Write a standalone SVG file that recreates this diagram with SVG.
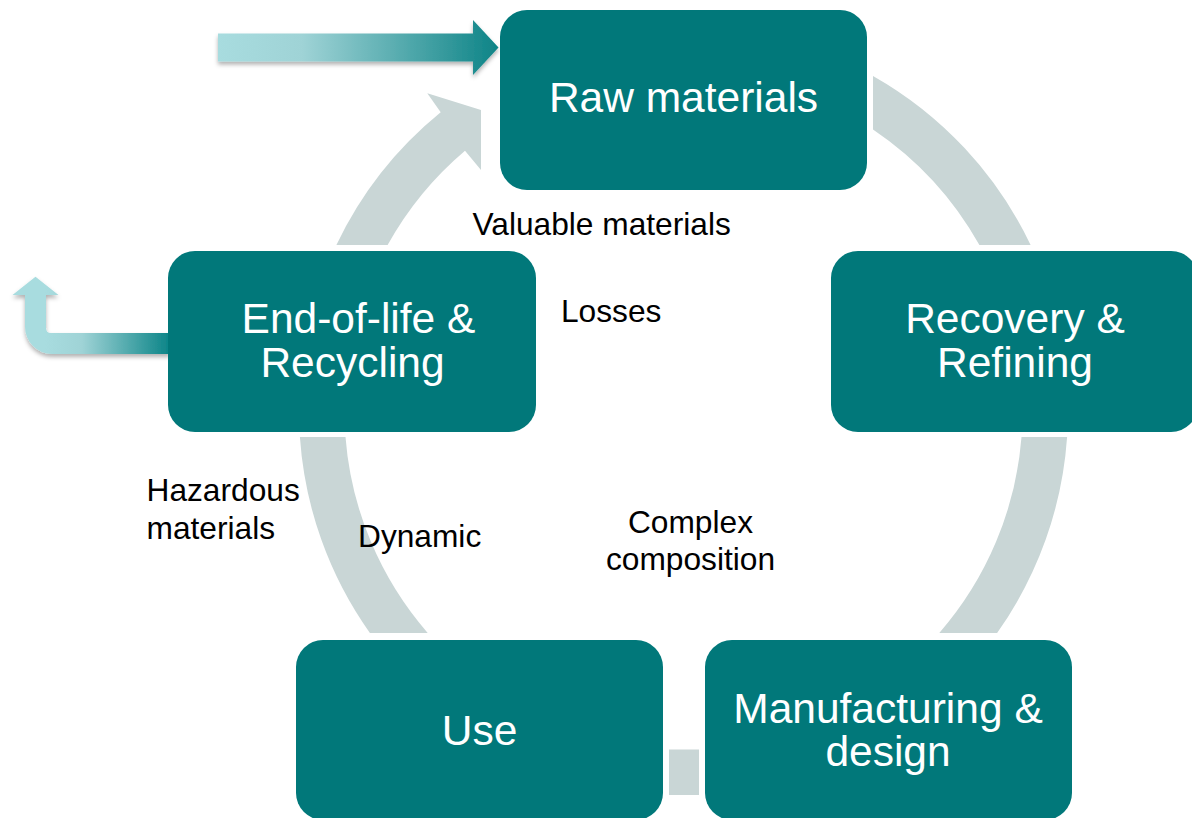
<svg xmlns="http://www.w3.org/2000/svg" width="1192" height="818" viewBox="0 0 1192 818">
  <defs>
    <linearGradient id="gTop" gradientUnits="userSpaceOnUse" x1="218" y1="0" x2="498" y2="0">
      <stop offset="0" stop-color="#A8DCDF"/>
      <stop offset="0.3" stop-color="#9FD3D6"/>
      <stop offset="1" stop-color="#0E8487"/>
    </linearGradient>
    <linearGradient id="gLeft" gradientUnits="userSpaceOnUse" x1="45" y1="0" x2="168" y2="0">
      <stop offset="0" stop-color="#A8DCDF"/>
      <stop offset="0.3" stop-color="#9FD3D6"/>
      <stop offset="1" stop-color="#0E8689"/>
    </linearGradient>
    <filter id="shadow" x="-10%" y="-30%" width="120%" height="180%">
      <feDropShadow dx="0" dy="3" stdDeviation="2" flood-color="#000" flood-opacity="0.3"/>
    </filter>
    <style>
      .ring { fill: #C9D6D6; }
      .node { fill: #01787A; }
      .nt { font-family: "Liberation Sans", Arial, sans-serif; font-size: 42.5px; fill: #FFFFFF; text-anchor: middle; }
      .lbl { font-family: "Liberation Sans", Arial, sans-serif; font-size: 31.7px; fill: #000000; }
    </style>
  </defs>
  <rect width="1192" height="818" fill="#FFFFFF"/>

  <g id="connectors">
    <path class="ring" d="M873,75.9 A384.5,384.5 0 0 1 1030.6,245 L979.4,245 A339,339 0 0 0 873,129.4 Z"/>
    <path class="ring" d="M1067.1,437 A384.5,384.5 0 0 1 997.1,633 L939.3,633 A339,339 0 0 0 1021.5,437 Z"/>
    <rect class="ring" x="669" y="749.5" width="30" height="45.5"/>
    <path class="ring" d="M299.9,437 A384.5,384.5 0 0 0 369.9,633 L427.7,633 A339,339 0 0 1 345.5,437 Z"/>
    <path class="ring" d="M336.4,245 A384.5,384.5 0 0 1 440.7,112.3 L427.3,93.3 L481,110 L481,170 L465,150.7 A339,339 0 0 0 387.6,245 Z"/>
    <path fill="url(#gTop)" filter="url(#shadow)" d="M218,33.5 L473,33.5 L473,20 L498.5,47.5 L473,75 L473,61.5 L218,61.5 Z"/>
    <path fill="url(#gLeft)" filter="url(#shadow)" d="M35.5,276.7 L58.5,295 L46,295 L46,328 Q46,333 51,333 L170,333 L170,354 L52,354 A27,27 0 0 1 25,327 L25,295 L12.5,295 Z"/>
  </g>

  <g id="node-raw">
    <rect class="node" x="500" y="10" width="367" height="180" rx="27" ry="27"/>
    <text class="nt" x="683.5" y="112">Raw materials</text>
  </g>
  <g id="node-recovery">
    <rect class="node" x="831" y="251" width="367" height="181" rx="27" ry="27"/>
    <text class="nt" x="1015" y="333">Recovery &amp;</text>
    <text class="nt" x="1015" y="377">Refining</text>
  </g>
  <g id="node-manufacturing">
    <rect class="node" x="705" y="640" width="367" height="180" rx="27" ry="27"/>
    <text class="nt" x="888" y="723">Manufacturing &amp;</text>
    <text class="nt" x="888" y="766">design</text>
  </g>
  <g id="node-use">
    <rect class="node" x="296" y="640" width="367" height="180" rx="27" ry="27"/>
    <text class="nt" x="479.5" y="745">Use</text>
  </g>
  <g id="node-eol">
    <rect class="node" x="168" y="251" width="368" height="181" rx="27" ry="27"/>
    <text class="nt" x="358.5" y="333">End-of-life &amp;</text>
    <text class="nt" x="352.5" y="377">Recycling</text>
  </g>

  <g id="labels">
    <text class="lbl" x="472.5" y="235">Valuable materials</text>
    <text class="lbl" x="561" y="322">Losses</text>
    <text class="lbl" x="146.5" y="501">Hazardous</text>
    <text class="lbl" x="146.5" y="539">materials</text>
    <text class="lbl" x="358" y="547">Dynamic</text>
    <text class="lbl" x="690.5" y="533" text-anchor="middle">Complex</text>
    <text class="lbl" x="690.5" y="570" text-anchor="middle">composition</text>
  </g>
</svg>
